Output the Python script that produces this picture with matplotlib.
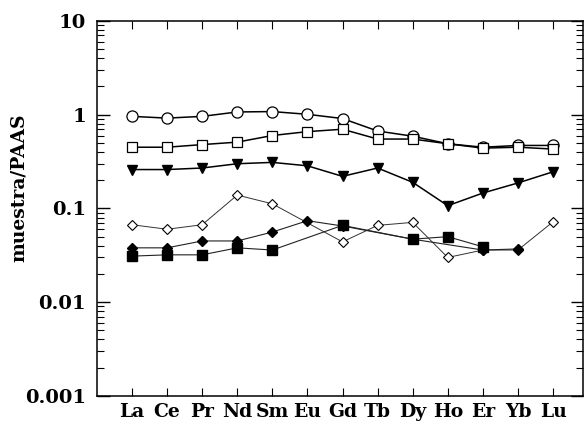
import numpy as np
import matplotlib
matplotlib.use("Agg")
import matplotlib.pyplot as plt
from matplotlib.ticker import LogLocator, NullFormatter

# REE elements on the x axis
elements = ["La", "Ce", "Pr", "Nd", "Sm", "Eu", "Gd", "Tb", "Dy", "Ho", "Er", "Yb", "Lu"]

# values normalised to PAAS; None = not plotted
circles = [0.96, 0.92, 0.96, 1.07, 1.08, 1.01, 0.91, 0.67, 0.59, 0.49, 0.45, 0.47, 0.47]
open_squares = [0.45, 0.45, 0.48, 0.51, 0.60, 0.66, 0.70, 0.55, 0.55, 0.49, 0.44, 0.45, 0.43]
triangles = [0.26, 0.26, 0.27, 0.30, 0.31, 0.285, 0.22, 0.27, 0.19, 0.107, 0.146, 0.187, 0.246]
open_diamonds = [0.067, 0.060, 0.067, 0.139, 0.112, None, 0.044, 0.066, 0.071, 0.030, 0.036, 0.036, 0.072]
filled_diamonds = [0.038, 0.038, 0.045, 0.045, 0.056, 0.074, 0.065, None, 0.047, None, 0.036, 0.037, None]
filled_squares = [0.031, 0.032, 0.032, 0.038, 0.036, None, 0.066, None, 0.047, 0.050, 0.039, None, None]

plt.rcParams['font.family'] = ['DejaVu Serif']
plt.rcParams['font.weight'] = 'bold'


def pick(vals):
    x = [i + 1 for i, v in enumerate(vals) if v is not None]
    y = [v for v in vals if v is not None]
    return x, y


fig = plt.figure(figsize=(5.84, 4.37), dpi=100)
ax = fig.add_axes([0.166, 0.094, 0.832, 0.858])

x, y = pick(circles)
ax.plot(x, y, '-o', color='black', lw=1.1, ms=8, mfc='white', mec='black', mew=0.9, zorder=3)
x, y = pick(open_squares)
ax.plot(x, y, '-s', color='black', lw=1.1, ms=7.5, mfc='white', mec='black', mew=0.9, zorder=3)
x, y = pick(triangles)
ax.plot(x, y, '-v', color='black', lw=1.1, ms=7, mfc='black', mec='black', zorder=3)
x, y = pick(open_diamonds)
ax.plot(x, y, '-D', color='#333333', lw=0.7, ms=5.5, mfc='white', mec='black', mew=0.8, zorder=2)
x, y = pick(filled_squares)
ax.plot(x, y, '-s', color='#222222', lw=0.8, ms=7.5, mfc='black', mec='black', zorder=4)
x, y = pick(filled_diamonds)
ax.plot(x, y, '-D', color='#222222', lw=0.8, ms=5.5, mfc='black', mec='black', zorder=3)

ax.set_yscale('log')
ax.set_ylim(0.001, 10)
ax.set_xlim(0, 13.85)
ax.set_yticks([0.001, 0.01, 0.1, 1, 10])
ax.set_yticklabels(["0.001", "0.01", "0.1", "1", "10"])
ax.yaxis.set_minor_locator(LogLocator(base=10, subs=np.arange(2, 10)))
ax.yaxis.set_minor_formatter(NullFormatter())
ax.set_xticks(range(1, len(elements) + 1))
ax.set_xticklabels(elements)

ax.tick_params(axis='y', which='major', direction='in', length=9, width=1, right=True,
               labelsize=14, pad=8)
ax.tick_params(axis='y', which='minor', direction='in', length=5, width=0.8, right=True)
ax.tick_params(axis='x', which='major', direction='in', length=6, width=0.8, top=True,
               labelsize=13.5, pad=5)
for lab in ax.get_xticklabels() + ax.get_yticklabels():
    lab.set_fontweight('bold')

for s in ax.spines.values():
    s.set_linewidth(1.1)

ax.set_ylabel("muestra/PAAS", fontsize=13.5, fontweight='bold')
ax.yaxis.set_label_coords(-0.142, 0.555)

fig.savefig("out.png", dpi=100)
